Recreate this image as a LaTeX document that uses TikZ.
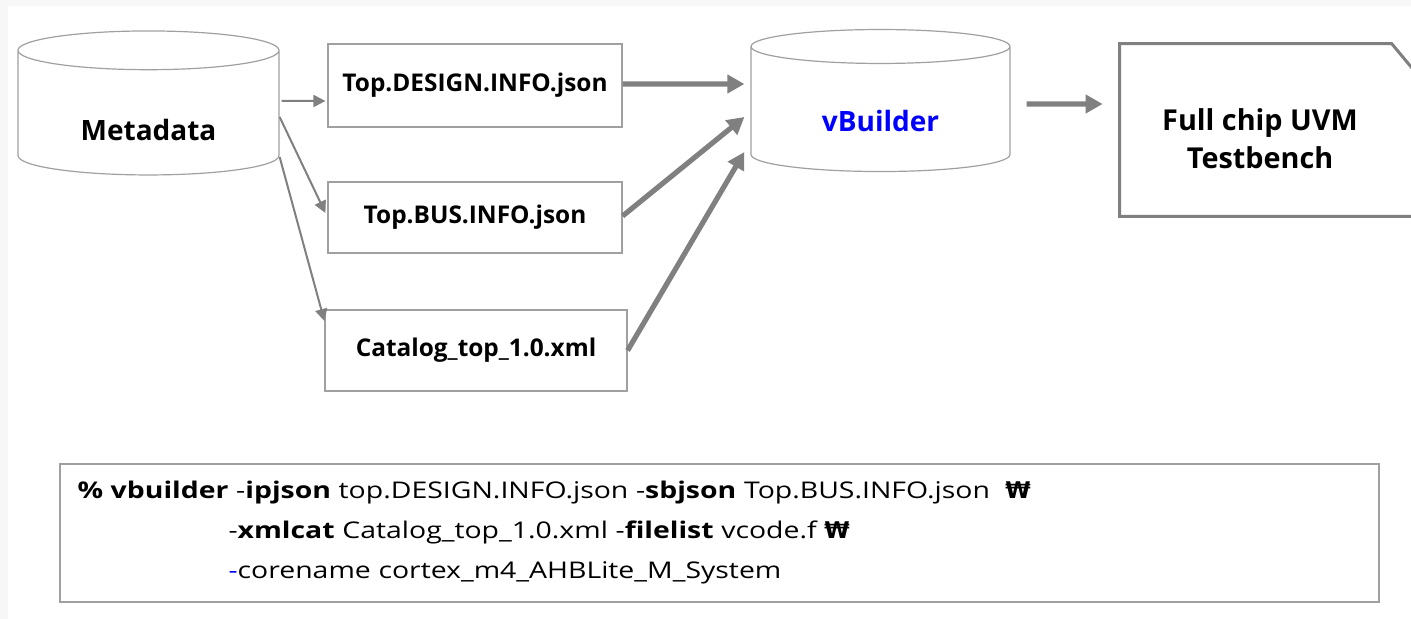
\documentclass[tikz,border=0pt]{standalone}
\usepackage{fontspec}
\setmainfont{Open Sans}
\newfontfamily\cmdfont{Open Sans}[FakeStretch=1.235]
\newfontfamily\wonfont{DejaVu Sans}
\usetikzlibrary{shapes.geometric, arrows.meta, positioning, calc}
\definecolor{linegray}{HTML}{808080}
\definecolor{boxgray}{HTML}{A0A0A0}
\definecolor{vblue}{HTML}{0000FF}
\tikzstyle{database} = [cylinder, 
shape border rotate=90, 
aspect=0.26, 
draw=boxgray, 
line width=0.6pt, 
fill=white, 
font=\bfseries\fontsize{14}{16}\selectfont]
\tikzstyle{jsonbox} = [rectangle, 
draw=boxgray, 
line width=0.6pt, 
fill=white, 
font=\bfseries\fontsize{12.2}{14}\selectfont]
\tikzstyle{cmdbox} = [rectangle, 
draw=boxgray, 
line width=1pt, 
text width=642pt, 
inner xsep=8.75pt, 
minimum height=69pt, 
align=left, 
font=\cmdfont\fontsize{11.5}{20}\selectfont]
\tikzstyle{thinarrow} = [draw=linegray, line width=1pt, -{Triangle[length=6pt, width=6pt]}]
\tikzstyle{thickarrow} = [draw=linegray, line width=2.6pt, -{Triangle[length=8.5pt, width=9pt]}]

\begin{document}
\begin{tikzpicture}[x=0.5pt, y=-0.5pt]

        % Fond
        \fill[gray!6] (0,0) rectangle (1411,619);
        \fill[white] (8,6) rectangle (1411,619);
        \useasboundingbox (0,0) rectangle (1411,619);

        % Noeuds
        \node (meta) [database, minimum width=130.5pt, minimum height=72pt] at (148.5,116) {\raisebox{-7pt}[\height][\depth]{Metadata}};
        \node (design) [jsonbox, minimum width=147pt, minimum height=41.5pt] at (475,85.5) {Top.DESIGN.INFO.json};
        \node (bus) [jsonbox, minimum width=147pt, minimum height=35.5pt] at (475,217.5) {Top.BUS.INFO.json};
        \node (catalog) [jsonbox, minimum width=151pt, minimum height=40.5pt] at (476,350.5) {Catalog\_top\_1.0.xml};
        \node (vb) [database, text=vblue, minimum width=129.5pt, minimum height=71pt] at (880.5,112) {\raisebox{-4.5pt}[\height][\depth]{vBuilder}};
        \node (tb) [font=\bfseries\fontsize{14.4}{19}\selectfont, align=center, minimum width=140pt, minimum height=86pt] at (1260,139) {Full chip UVM\\Testbench};
        \draw [draw=linegray, line width=1.5pt] ($(tb.north west)+(0,-9)$) -- ++(272,0) -- ++(40,48) |- ($(tb.south west)+(0,-9)$) -- cycle;
        \node (cmd) [cmdbox] at (719.5,533) {\textbf{\% vbuilder} -\textbf{ipjson} top.DESIGN.INFO.json -\textbf{sbjson} Top.BUS.INFO.json\ \ {\wonfont\bfseries ₩}\\
        \hspace*{75.5pt}-\textbf{xmlcat} Catalog\_top\_1.0.xml -\textbf{filelist} vcode.f {\wonfont\bfseries ₩}\\
        \hspace*{75.5pt}\textcolor{vblue}{-}corename cortex\_m4\_AHBLite\_M\_System};

        % Connexions
        \draw [thinarrow] ($(meta.east)+(2,-15)$) -- ($(design.west)+(-2,15.5)$);
        \draw [thinarrow] ($(meta.east)+(0,1)$) -- ($(bus.west)+(-2,-4.5)$);
        \draw [thinarrow] ($(meta.east)+(0,41)$) -- ($(catalog.west)+(0,-29.5)$);
        \draw [thickarrow] ($(design.east)+(0,-1.5)$) -- ($(vb.west)+(-6,-28)$);
        \draw [thickarrow] ($(bus.east)+(0,-1.5)$) -- ($(vb.west)+(-6,5)$);
        \draw [thickarrow] (catalog.east) -- ($(vb.west)+(-6,40)$);
        \draw [thickarrow] ($(vb.east)+(16,-8)$) -- ($(tb.west)+(-17,-35)$);

    \end{tikzpicture}
\end{document}
